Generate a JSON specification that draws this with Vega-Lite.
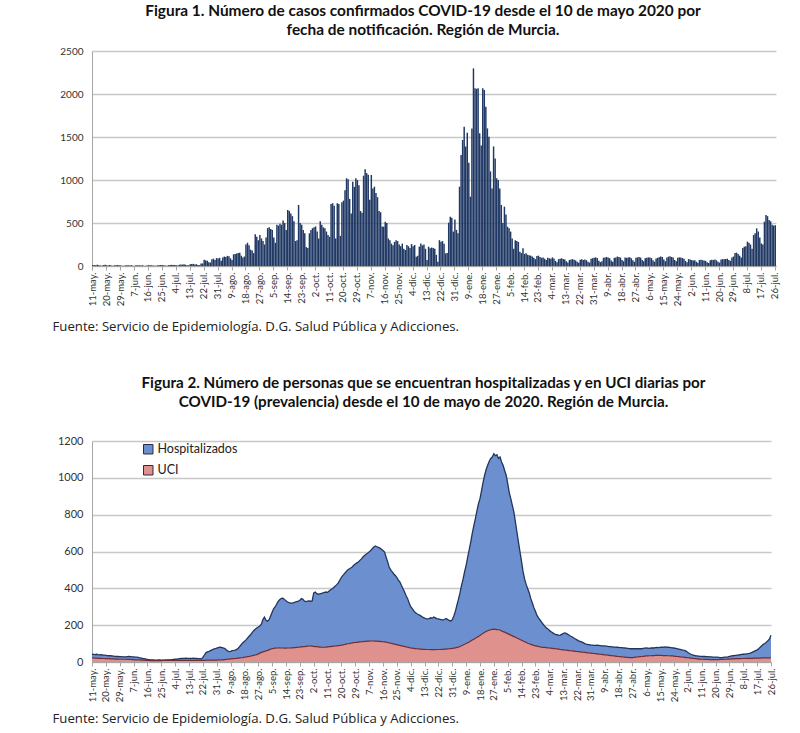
{
"$schema": "https://vega.github.io/schema/vega-lite/v6.json",
"padding": {"left": 52, "top": 3, "right": 10, "bottom": 5},
"spacing": 42,
"config": {
  "font": "Lato",
  "view": {"stroke": null},
  "axis": {"labelFont": "Lato", "labelColor": "#333333", "domainColor": "#a6a6a6", "tickColor": "#a6a6a6", "titleFont": "Open Sans", "titleFontWeight": "normal", "titleFontSize": 13, "titleColor": "#222222"}
},
"data": {"values": [
{"d":"2020-05-11","c":12,"h":42,"u":22},{"d":"2020-05-12","c":10,"h":41,"u":22},{"d":"2020-05-13","c":8,"h":40,"u":21},{"d":"2020-05-14","c":15,"h":42,"u":21},{"d":"2020-05-15","c":9,"h":40,"u":20},{"d":"2020-05-16","c":6,"h":39,"u":20},{"d":"2020-05-17","c":4,"h":40,"u":20},{"d":"2020-05-18","c":11,"h":38,"u":19},{"d":"2020-05-19","c":14,"h":37,"u":19},{"d":"2020-05-20","c":9,"h":36,"u":18},{"d":"2020-05-21","c":7,"h":35,"u":18},{"d":"2020-05-22","c":12,"h":34,"u":18},{"d":"2020-05-23","c":5,"h":34,"u":17},{"d":"2020-05-24","c":3,"h":33,"u":17},{"d":"2020-05-25","c":8,"h":32,"u":17},{"d":"2020-05-26","c":10,"h":31,"u":16},{"d":"2020-05-27","c":12,"h":30,"u":16},{"d":"2020-05-28","c":9,"h":30,"u":16},{"d":"2020-05-29","c":7,"h":29,"u":15},{"d":"2020-05-30","c":4,"h":29,"u":15},{"d":"2020-05-31","c":3,"h":28,"u":15},
{"d":"2020-06-01","c":6,"h":28,"u":15},{"d":"2020-06-02","c":9,"h":28,"u":15},{"d":"2020-06-03","c":8,"h":29,"u":14},{"d":"2020-06-04","c":7,"h":30,"u":14},{"d":"2020-06-05","c":10,"h":29,"u":14},{"d":"2020-06-06","c":4,"h":28,"u":13},{"d":"2020-06-07","c":2,"h":28,"u":13},{"d":"2020-06-08","c":8,"h":27,"u":12},{"d":"2020-06-09","c":7,"h":26,"u":12},{"d":"2020-06-10","c":9,"h":25,"u":11},{"d":"2020-06-11","c":6,"h":23,"u":11},{"d":"2020-06-12","c":8,"h":21,"u":10},{"d":"2020-06-13","c":3,"h":19,"u":10},{"d":"2020-06-14","c":2,"h":18,"u":10},{"d":"2020-06-15","c":7,"h":16,"u":9},{"d":"2020-06-16","c":9,"h":14,"u":9},{"d":"2020-06-17","c":10,"h":13,"u":9},{"d":"2020-06-18","c":8,"h":12,"u":8},{"d":"2020-06-19","c":6,"h":11,"u":8},{"d":"2020-06-20","c":4,"h":11,"u":8},{"d":"2020-06-21","c":3,"h":10,"u":8},{"d":"2020-06-22","c":9,"h":10,"u":8},{"d":"2020-06-23","c":8,"h":11,"u":8},{"d":"2020-06-24","c":11,"h":11,"u":8},{"d":"2020-06-25","c":10,"h":10,"u":8},{"d":"2020-06-26","c":9,"h":10,"u":9},{"d":"2020-06-27","c":5,"h":10,"u":9},{"d":"2020-06-28","c":4,"h":11,"u":9},{"d":"2020-06-29","c":10,"h":11,"u":9},{"d":"2020-06-30","c":12,"h":12,"u":9},
{"d":"2020-07-01","c":14,"h":12,"u":9},{"d":"2020-07-02","c":11,"h":13,"u":9},{"d":"2020-07-03","c":13,"h":14,"u":9},{"d":"2020-07-04","c":9,"h":15,"u":9},{"d":"2020-07-05","c":6,"h":16,"u":9},{"d":"2020-07-06","c":15,"h":17,"u":9},{"d":"2020-07-07","c":18,"h":18,"u":9},{"d":"2020-07-08","c":16,"h":19,"u":9},{"d":"2020-07-09","c":20,"h":20,"u":9},{"d":"2020-07-10","c":14,"h":20,"u":9},{"d":"2020-07-11","c":9,"h":21,"u":9},{"d":"2020-07-12","c":8,"h":20,"u":9},{"d":"2020-07-13","c":19,"h":20,"u":9},{"d":"2020-07-14","c":22,"h":19,"u":9},{"d":"2020-07-15","c":25,"h":20,"u":9},{"d":"2020-07-16","c":18,"h":21,"u":9},{"d":"2020-07-17","c":21,"h":20,"u":9},{"d":"2020-07-18","c":12,"h":19,"u":9},{"d":"2020-07-19","c":10,"h":18,"u":9},{"d":"2020-07-20","c":28,"h":18,"u":9},{"d":"2020-07-21","c":30,"h":17,"u":9},{"d":"2020-07-22","c":72,"h":25,"u":9},{"d":"2020-07-23","c":65,"h":38,"u":9},{"d":"2020-07-24","c":60,"h":50,"u":10},{"d":"2020-07-25","c":45,"h":55,"u":10},{"d":"2020-07-26","c":40,"h":58,"u":10},{"d":"2020-07-27","c":78,"h":62,"u":10},{"d":"2020-07-28","c":85,"h":66,"u":10},{"d":"2020-07-29","c":70,"h":70,"u":10},{"d":"2020-07-30","c":92,"h":72,"u":10},{"d":"2020-07-31","c":88,"h":75,"u":10},
{"d":"2020-08-01","c":95,"h":78,"u":11},{"d":"2020-08-02","c":60,"h":80,"u":11},{"d":"2020-08-03","c":100,"h":79,"u":12},{"d":"2020-08-04","c":110,"h":77,"u":12},{"d":"2020-08-05","c":105,"h":74,"u":13},{"d":"2020-08-06","c":118,"h":68,"u":14},{"d":"2020-08-07","c":112,"h":60,"u":15},{"d":"2020-08-08","c":90,"h":56,"u":16},{"d":"2020-08-09","c":70,"h":58,"u":17},{"d":"2020-08-10","c":135,"h":62,"u":18},{"d":"2020-08-11","c":140,"h":63,"u":18},{"d":"2020-08-12","c":145,"h":65,"u":19},{"d":"2020-08-13","c":150,"h":68,"u":20},{"d":"2020-08-14","c":155,"h":75,"u":21},{"d":"2020-08-15","c":120,"h":85,"u":22},{"d":"2020-08-16","c":100,"h":95,"u":23},{"d":"2020-08-17","c":110,"h":105,"u":24},{"d":"2020-08-18","c":250,"h":112,"u":26},{"d":"2020-08-19","c":270,"h":120,"u":27},{"d":"2020-08-20","c":240,"h":130,"u":29},{"d":"2020-08-21","c":190,"h":140,"u":30},{"d":"2020-08-22","c":180,"h":148,"u":32},{"d":"2020-08-23","c":150,"h":160,"u":34},{"d":"2020-08-24","c":370,"h":170,"u":36},{"d":"2020-08-25","c":340,"h":178,"u":38},{"d":"2020-08-26","c":300,"h":185,"u":40},{"d":"2020-08-27","c":360,"h":190,"u":44},{"d":"2020-08-28","c":320,"h":196,"u":48},{"d":"2020-08-29","c":290,"h":205,"u":52},{"d":"2020-08-30","c":250,"h":230,"u":55},{"d":"2020-08-31","c":330,"h":244,"u":58},
{"d":"2020-09-01","c":440,"h":226,"u":60},{"d":"2020-09-02","c":450,"h":222,"u":63},{"d":"2020-09-03","c":430,"h":230,"u":66},{"d":"2020-09-04","c":420,"h":250,"u":70},{"d":"2020-09-05","c":330,"h":270,"u":72},{"d":"2020-09-06","c":270,"h":290,"u":74},{"d":"2020-09-07","c":480,"h":300,"u":75},{"d":"2020-09-08","c":470,"h":315,"u":76},{"d":"2020-09-09","c":490,"h":330,"u":76},{"d":"2020-09-10","c":480,"h":340,"u":77},{"d":"2020-09-11","c":530,"h":345,"u":76},{"d":"2020-09-12","c":500,"h":347,"u":76},{"d":"2020-09-13","c":420,"h":340,"u":75},{"d":"2020-09-14","c":650,"h":332,"u":75},{"d":"2020-09-15","c":640,"h":326,"u":76},{"d":"2020-09-16","c":610,"h":322,"u":76},{"d":"2020-09-17","c":580,"h":320,"u":76},{"d":"2020-09-18","c":520,"h":320,"u":77},{"d":"2020-09-19","c":290,"h":322,"u":78},{"d":"2020-09-20","c":300,"h":325,"u":78},{"d":"2020-09-21","c":710,"h":328,"u":79},{"d":"2020-09-22","c":500,"h":330,"u":80},{"d":"2020-09-23","c":480,"h":335,"u":81},{"d":"2020-09-24","c":420,"h":344,"u":82},{"d":"2020-09-25","c":380,"h":340,"u":83},{"d":"2020-09-26","c":220,"h":330,"u":84},{"d":"2020-09-27","c":210,"h":328,"u":85},{"d":"2020-09-28","c":380,"h":330,"u":86},{"d":"2020-09-29","c":420,"h":332,"u":87},{"d":"2020-09-30","c":440,"h":330,"u":88},
{"d":"2020-10-01","c":450,"h":332,"u":86},{"d":"2020-10-02","c":460,"h":375,"u":85},{"d":"2020-10-03","c":400,"h":380,"u":84},{"d":"2020-10-04","c":320,"h":371,"u":83},{"d":"2020-10-05","c":520,"h":368,"u":82},{"d":"2020-10-06","c":480,"h":370,"u":81},{"d":"2020-10-07","c":450,"h":372,"u":80},{"d":"2020-10-08","c":440,"h":375,"u":80},{"d":"2020-10-09","c":400,"h":378,"u":80},{"d":"2020-10-10","c":360,"h":380,"u":81},{"d":"2020-10-11","c":340,"h":378,"u":82},{"d":"2020-10-12","c":720,"h":385,"u":83},{"d":"2020-10-13","c":730,"h":392,"u":84},{"d":"2020-10-14","c":700,"h":398,"u":85},{"d":"2020-10-15","c":320,"h":405,"u":86},{"d":"2020-10-16","c":730,"h":412,"u":87},{"d":"2020-10-17","c":720,"h":420,"u":88},{"d":"2020-10-18","c":350,"h":430,"u":89},{"d":"2020-10-19","c":740,"h":445,"u":90},{"d":"2020-10-20","c":760,"h":460,"u":91},{"d":"2020-10-21","c":880,"h":470,"u":93},{"d":"2020-10-22","c":1020,"h":480,"u":95},{"d":"2020-10-23","c":1010,"h":490,"u":97},{"d":"2020-10-24","c":780,"h":500,"u":99},{"d":"2020-10-25","c":610,"h":505,"u":100},{"d":"2020-10-26","c":980,"h":510,"u":102},{"d":"2020-10-27","c":920,"h":516,"u":104},{"d":"2020-10-28","c":1020,"h":525,"u":105},{"d":"2020-10-29","c":1000,"h":532,"u":106},{"d":"2020-10-30","c":940,"h":538,"u":107},{"d":"2020-10-31","c":640,"h":543,"u":108},
{"d":"2020-11-01","c":620,"h":552,"u":109},{"d":"2020-11-02","c":1050,"h":560,"u":110},{"d":"2020-11-03","c":1124,"h":570,"u":111},{"d":"2020-11-04","c":1080,"h":578,"u":112},{"d":"2020-11-05","c":1060,"h":585,"u":112},{"d":"2020-11-06","c":770,"h":590,"u":113},{"d":"2020-11-07","c":1058,"h":598,"u":113},{"d":"2020-11-08","c":900,"h":605,"u":114},{"d":"2020-11-09","c":922,"h":615,"u":114},{"d":"2020-11-10","c":850,"h":624,"u":114},{"d":"2020-11-11","c":800,"h":630,"u":113},{"d":"2020-11-12","c":640,"h":626,"u":113},{"d":"2020-11-13","c":625,"h":622,"u":112},{"d":"2020-11-14","c":460,"h":618,"u":112},{"d":"2020-11-15","c":457,"h":612,"u":111},{"d":"2020-11-16","c":515,"h":605,"u":110},{"d":"2020-11-17","c":500,"h":597,"u":109},{"d":"2020-11-18","c":320,"h":570,"u":108},{"d":"2020-11-19","c":300,"h":545,"u":106},{"d":"2020-11-20","c":260,"h":516,"u":104},{"d":"2020-11-21","c":240,"h":500,"u":102},{"d":"2020-11-22","c":280,"h":489,"u":100},{"d":"2020-11-23","c":300,"h":478,"u":98},{"d":"2020-11-24","c":290,"h":470,"u":96},{"d":"2020-11-25","c":250,"h":458,"u":94},{"d":"2020-11-26","c":230,"h":445,"u":92},{"d":"2020-11-27","c":260,"h":434,"u":90},{"d":"2020-11-28","c":200,"h":415,"u":88},{"d":"2020-11-29","c":186,"h":398,"u":86},{"d":"2020-11-30","c":245,"h":380,"u":84},
{"d":"2020-12-01","c":230,"h":360,"u":82},{"d":"2020-12-02","c":210,"h":344,"u":80},{"d":"2020-12-03","c":255,"h":320,"u":78},{"d":"2020-12-04","c":230,"h":300,"u":76},{"d":"2020-12-05","c":245,"h":290,"u":75},{"d":"2020-12-06","c":108,"h":278,"u":74},{"d":"2020-12-07","c":120,"h":268,"u":73},{"d":"2020-12-08","c":225,"h":262,"u":72},{"d":"2020-12-09","c":263,"h":258,"u":71},{"d":"2020-12-10","c":240,"h":253,"u":70},{"d":"2020-12-11","c":250,"h":248,"u":70},{"d":"2020-12-12","c":200,"h":242,"u":69},{"d":"2020-12-13","c":70,"h":238,"u":69},{"d":"2020-12-14","c":225,"h":235,"u":68},{"d":"2020-12-15","c":205,"h":234,"u":68},{"d":"2020-12-16","c":215,"h":236,"u":68},{"d":"2020-12-17","c":210,"h":240,"u":67},{"d":"2020-12-18","c":200,"h":238,"u":67},{"d":"2020-12-19","c":130,"h":244,"u":67},{"d":"2020-12-20","c":50,"h":240,"u":67},{"d":"2020-12-21","c":300,"h":236,"u":68},{"d":"2020-12-22","c":283,"h":234,"u":68},{"d":"2020-12-23","c":290,"h":232,"u":68},{"d":"2020-12-24","c":260,"h":230,"u":69},{"d":"2020-12-25","c":147,"h":228,"u":69},{"d":"2020-12-26","c":150,"h":232,"u":70},{"d":"2020-12-27","c":504,"h":236,"u":70},{"d":"2020-12-28","c":574,"h":230,"u":71},{"d":"2020-12-29","c":560,"h":226,"u":72},{"d":"2020-12-30","c":400,"h":222,"u":73},{"d":"2020-12-31","c":540,"h":230,"u":74},
{"d":"2021-01-01","c":420,"h":250,"u":75},{"d":"2021-01-02","c":380,"h":275,"u":77},{"d":"2021-01-03","c":922,"h":308,"u":79},{"d":"2021-01-04","c":1290,"h":340,"u":81},{"d":"2021-01-05","c":1465,"h":375,"u":84},{"d":"2021-01-06","c":1620,"h":416,"u":88},{"d":"2021-01-07","c":1390,"h":450,"u":92},{"d":"2021-01-08","c":1550,"h":490,"u":96},{"d":"2021-01-09","c":1200,"h":525,"u":100},{"d":"2021-01-10","c":806,"h":570,"u":105},{"d":"2021-01-11","c":1600,"h":610,"u":109},{"d":"2021-01-12","c":2298,"h":652,"u":114},{"d":"2021-01-13","c":2066,"h":700,"u":119},{"d":"2021-01-14","c":2060,"h":740,"u":124},{"d":"2021-01-15","c":2066,"h":778,"u":129},{"d":"2021-01-16","c":1543,"h":820,"u":134},{"d":"2021-01-17","c":1400,"h":860,"u":139},{"d":"2021-01-18","c":2066,"h":887,"u":144},{"d":"2021-01-19","c":2047,"h":930,"u":150},{"d":"2021-01-20","c":1853,"h":975,"u":156},{"d":"2021-01-21","c":1600,"h":1014,"u":162},{"d":"2021-01-22","c":1504,"h":1045,"u":166},{"d":"2021-01-23","c":1100,"h":1068,"u":170},{"d":"2021-01-24","c":900,"h":1090,"u":173},{"d":"2021-01-25","c":1390,"h":1105,"u":175},{"d":"2021-01-26","c":1250,"h":1113,"u":177},{"d":"2021-01-27","c":1020,"h":1131,"u":178},{"d":"2021-01-28","c":1000,"h":1120,"u":177},{"d":"2021-01-29","c":900,"h":1125,"u":176},{"d":"2021-01-30","c":710,"h":1105,"u":175},{"d":"2021-01-31","c":500,"h":1113,"u":174},
{"d":"2021-02-01","c":690,"h":1086,"u":168},{"d":"2021-02-02","c":600,"h":1068,"u":165},{"d":"2021-02-03","c":457,"h":1040,"u":162},{"d":"2021-02-04","c":440,"h":1014,"u":158},{"d":"2021-02-05","c":400,"h":970,"u":154},{"d":"2021-02-06","c":320,"h":920,"u":150},{"d":"2021-02-07","c":200,"h":887,"u":146},{"d":"2021-02-08","c":300,"h":850,"u":142},{"d":"2021-02-09","c":290,"h":815,"u":138},{"d":"2021-02-10","c":280,"h":760,"u":134},{"d":"2021-02-11","c":167,"h":706,"u":130},{"d":"2021-02-12","c":150,"h":650,"u":126},{"d":"2021-02-13","c":205,"h":597,"u":122},{"d":"2021-02-14","c":140,"h":545,"u":118},{"d":"2021-02-15","c":147,"h":489,"u":114},{"d":"2021-02-16","c":130,"h":450,"u":110},{"d":"2021-02-17","c":125,"h":420,"u":106},{"d":"2021-02-18","c":120,"h":398,"u":102},{"d":"2021-02-19","c":110,"h":375,"u":99},{"d":"2021-02-20","c":95,"h":344,"u":96},{"d":"2021-02-21","c":80,"h":320,"u":93},{"d":"2021-02-22","c":115,"h":295,"u":90},{"d":"2021-02-23","c":120,"h":275,"u":88},{"d":"2021-02-24","c":105,"h":253,"u":86},{"d":"2021-02-25","c":95,"h":240,"u":84},{"d":"2021-02-26","c":100,"h":228,"u":82},{"d":"2021-02-27","c":85,"h":217,"u":80},{"d":"2021-02-28","c":70,"h":205,"u":79},
{"d":"2021-03-01","c":95,"h":195,"u":79},{"d":"2021-03-02","c":90,"h":185,"u":78},{"d":"2021-03-03","c":85,"h":181,"u":77},{"d":"2021-03-04","c":100,"h":172,"u":76},{"d":"2021-03-05","c":88,"h":165,"u":75},{"d":"2021-03-06","c":60,"h":160,"u":74},{"d":"2021-03-07","c":45,"h":154,"u":73},{"d":"2021-03-08","c":80,"h":150,"u":72},{"d":"2021-03-09","c":85,"h":148,"u":71},{"d":"2021-03-10","c":90,"h":146,"u":70},{"d":"2021-03-11","c":82,"h":145,"u":68},{"d":"2021-03-12","c":75,"h":150,"u":67},{"d":"2021-03-13","c":55,"h":154,"u":66},{"d":"2021-03-14","c":40,"h":158,"u":65},{"d":"2021-03-15","c":70,"h":155,"u":64},{"d":"2021-03-16","c":75,"h":150,"u":63},{"d":"2021-03-17","c":80,"h":145,"u":62},{"d":"2021-03-18","c":72,"h":140,"u":61},{"d":"2021-03-19","c":65,"h":136,"u":60},{"d":"2021-03-20","c":50,"h":130,"u":59},{"d":"2021-03-21","c":38,"h":125,"u":58},{"d":"2021-03-22","c":72,"h":120,"u":57},{"d":"2021-03-23","c":78,"h":115,"u":56},{"d":"2021-03-24","c":70,"h":112,"u":55},{"d":"2021-03-25","c":75,"h":109,"u":54},{"d":"2021-03-26","c":68,"h":105,"u":53},{"d":"2021-03-27","c":48,"h":100,"u":52},{"d":"2021-03-28","c":40,"h":97,"u":51},{"d":"2021-03-29","c":85,"h":95,"u":50},{"d":"2021-03-30","c":90,"h":94,"u":49},{"d":"2021-03-31","c":95,"h":92,"u":48},
{"d":"2021-04-01","c":100,"h":92,"u":47},{"d":"2021-04-02","c":92,"h":90,"u":46},{"d":"2021-04-03","c":60,"h":90,"u":45},{"d":"2021-04-04","c":45,"h":91,"u":44},{"d":"2021-04-05","c":55,"h":90,"u":43},{"d":"2021-04-06","c":95,"h":89,"u":42},{"d":"2021-04-07","c":100,"h":88,"u":41},{"d":"2021-04-08","c":105,"h":88,"u":40},{"d":"2021-04-09","c":98,"h":87,"u":39},{"d":"2021-04-10","c":90,"h":86,"u":38},{"d":"2021-04-11","c":65,"h":85,"u":37},{"d":"2021-04-12","c":50,"h":84,"u":36},{"d":"2021-04-13","c":95,"h":83,"u":35},{"d":"2021-04-14","c":100,"h":82,"u":34},{"d":"2021-04-15","c":110,"h":81,"u":33},{"d":"2021-04-16","c":105,"h":81,"u":32},{"d":"2021-04-17","c":98,"h":80,"u":31},{"d":"2021-04-18","c":70,"h":79,"u":30},{"d":"2021-04-19","c":55,"h":78,"u":29},{"d":"2021-04-20","c":100,"h":78,"u":28},{"d":"2021-04-21","c":95,"h":77,"u":27},{"d":"2021-04-22","c":98,"h":76,"u":26},{"d":"2021-04-23","c":102,"h":75,"u":25},{"d":"2021-04-24","c":90,"h":74,"u":25},{"d":"2021-04-25","c":68,"h":73,"u":24},{"d":"2021-04-26","c":50,"h":72,"u":24},{"d":"2021-04-27","c":95,"h":72,"u":24},{"d":"2021-04-28","c":100,"h":72,"u":25},{"d":"2021-04-29","c":105,"h":73,"u":26},{"d":"2021-04-30","c":98,"h":72,"u":27},
{"d":"2021-05-01","c":70,"h":72,"u":28},{"d":"2021-05-02","c":55,"h":73,"u":29},{"d":"2021-05-03","c":90,"h":72,"u":30},{"d":"2021-05-04","c":95,"h":74,"u":31},{"d":"2021-05-05","c":100,"h":75,"u":32},{"d":"2021-05-06","c":98,"h":76,"u":33},{"d":"2021-05-07","c":92,"h":75,"u":33},{"d":"2021-05-08","c":68,"h":74,"u":34},{"d":"2021-05-09","c":50,"h":76,"u":34},{"d":"2021-05-10","c":88,"h":77,"u":35},{"d":"2021-05-11","c":95,"h":76,"u":35},{"d":"2021-05-12","c":102,"h":78,"u":36},{"d":"2021-05-13","c":110,"h":79,"u":36},{"d":"2021-05-14","c":105,"h":78,"u":36},{"d":"2021-05-15","c":75,"h":80,"u":36},{"d":"2021-05-16","c":55,"h":81,"u":36},{"d":"2021-05-17","c":100,"h":80,"u":35},{"d":"2021-05-18","c":108,"h":82,"u":35},{"d":"2021-05-19","c":112,"h":81,"u":35},{"d":"2021-05-20","c":105,"h":80,"u":34},{"d":"2021-05-21","c":98,"h":79,"u":34},{"d":"2021-05-22","c":70,"h":78,"u":33},{"d":"2021-05-23","c":55,"h":77,"u":33},{"d":"2021-05-24","c":95,"h":76,"u":32},{"d":"2021-05-25","c":100,"h":74,"u":31},{"d":"2021-05-26","c":98,"h":72,"u":30},{"d":"2021-05-27","c":92,"h":70,"u":29},{"d":"2021-05-28","c":85,"h":68,"u":28},{"d":"2021-05-29","c":60,"h":66,"u":27},{"d":"2021-05-30","c":45,"h":64,"u":26},{"d":"2021-05-31","c":80,"h":63,"u":25},
{"d":"2021-06-01","c":75,"h":58,"u":24},{"d":"2021-06-02","c":70,"h":52,"u":23},{"d":"2021-06-03","c":65,"h":46,"u":22},{"d":"2021-06-04","c":68,"h":42,"u":21},{"d":"2021-06-05","c":50,"h":38,"u":20},{"d":"2021-06-06","c":38,"h":36,"u":19},{"d":"2021-06-07","c":70,"h":34,"u":18},{"d":"2021-06-08","c":72,"h":33,"u":17},{"d":"2021-06-09","c":68,"h":32,"u":16},{"d":"2021-06-10","c":65,"h":31,"u":16},{"d":"2021-06-11","c":60,"h":31,"u":15},{"d":"2021-06-12","c":45,"h":30,"u":15},{"d":"2021-06-13","c":35,"h":30,"u":14},{"d":"2021-06-14","c":68,"h":29,"u":14},{"d":"2021-06-15","c":72,"h":29,"u":14},{"d":"2021-06-16","c":70,"h":28,"u":13},{"d":"2021-06-17","c":75,"h":28,"u":13},{"d":"2021-06-18","c":66,"h":27,"u":13},{"d":"2021-06-19","c":50,"h":27,"u":13},{"d":"2021-06-20","c":40,"h":26,"u":13},{"d":"2021-06-21","c":75,"h":26,"u":13},{"d":"2021-06-22","c":80,"h":25,"u":13},{"d":"2021-06-23","c":78,"h":24,"u":14},{"d":"2021-06-24","c":82,"h":24,"u":14},{"d":"2021-06-25","c":85,"h":25,"u":14},{"d":"2021-06-26","c":70,"h":26,"u":15},{"d":"2021-06-27","c":60,"h":27,"u":15},{"d":"2021-06-28","c":100,"h":28,"u":16},{"d":"2021-06-29","c":110,"h":30,"u":16},{"d":"2021-06-30","c":150,"h":32,"u":17},
{"d":"2021-07-01","c":155,"h":34,"u":17},{"d":"2021-07-02","c":140,"h":35,"u":17},{"d":"2021-07-03","c":120,"h":36,"u":18},{"d":"2021-07-04","c":100,"h":37,"u":18},{"d":"2021-07-05","c":210,"h":38,"u":18},{"d":"2021-07-06","c":225,"h":40,"u":18},{"d":"2021-07-07","c":230,"h":41,"u":19},{"d":"2021-07-08","c":283,"h":42,"u":19},{"d":"2021-07-09","c":270,"h":43,"u":19},{"d":"2021-07-10","c":250,"h":44,"u":20},{"d":"2021-07-11","c":200,"h":45,"u":20},{"d":"2021-07-12","c":360,"h":47,"u":20},{"d":"2021-07-13","c":380,"h":50,"u":20},{"d":"2021-07-14","c":438,"h":54,"u":20},{"d":"2021-07-15","c":400,"h":58,"u":21},{"d":"2021-07-16","c":330,"h":62,"u":21},{"d":"2021-07-17","c":263,"h":66,"u":21},{"d":"2021-07-18","c":250,"h":72,"u":21},{"d":"2021-07-19","c":515,"h":80,"u":21},{"d":"2021-07-20","c":593,"h":88,"u":22},{"d":"2021-07-21","c":580,"h":96,"u":22},{"d":"2021-07-22","c":535,"h":100,"u":22},{"d":"2021-07-23","c":520,"h":108,"u":22},{"d":"2021-07-24","c":480,"h":115,"u":22},{"d":"2021-07-25","c":470,"h":125,"u":22},{"d":"2021-07-26","c":475,"h":145,"u":23}
]},
"vconcat": [
{
  "width": 684, "height": 215,
  "title": {"text": ["Figura 1. Número de casos confirmados COVID-19 desde el 10 de mayo 2020 por", "fecha de notificación. Región de Murcia."], "font": "Lato", "fontSize": 15.4, "fontWeight": "bold", "color": "#111111", "anchor": "middle", "dx": -11, "offset": 8, "lineHeight": 19},
  "mark": {"type": "bar", "color": "#203864"},
  "encoding": {
    "x": {"field": "d", "type": "ordinal", "scale": {"paddingInner": 0.05, "paddingOuter": 0},
      "axis": {"grid": false, "values": ["2020-05-11","2020-05-20","2020-05-29","2020-06-07","2020-06-16","2020-06-25","2020-07-04","2020-07-13","2020-07-22","2020-07-31","2020-08-09","2020-08-18","2020-08-27","2020-09-05","2020-09-14","2020-09-23","2020-10-02","2020-10-11","2020-10-20","2020-10-29","2020-11-07","2020-11-16","2020-11-25","2020-12-04","2020-12-13","2020-12-22","2020-12-31","2021-01-09","2021-01-18","2021-01-27","2021-02-05","2021-02-14","2021-02-23","2021-03-04","2021-03-13","2021-03-22","2021-03-31","2021-04-09","2021-04-18","2021-04-27","2021-05-06","2021-05-15","2021-05-24","2021-06-02","2021-06-11","2021-06-20","2021-06-29","2021-07-08","2021-07-17","2021-07-26"],
        "labelExpr": "toNumber(slice(datum.value,8,10)) + '-' + ['ene.','feb.','mar.','abr.','may.','jun.','jul.','ago.','sep.','oct.','nov.','dic.'][toNumber(slice(datum.value,5,7))-1]",
        "labelAngle": -90, "labelFontSize": 9.5, "labelOverlap": false, "labelPadding": 2, "tickSize": 4,
        "title": "Fuente: Servicio de Epidemiología. D.G. Salud Pública y Adicciones.",
        "titleFont": "Open Sans", "titleFontSize": 13.2,
        "titleX": -40, "titleY": 60, "titleAlign": "left", "titleBaseline": "middle"}},
    "y": {"field": "c", "type": "quantitative", "scale": {"domain": [0, 2500]},
      "axis": {"values": [0, 500, 1000, 1500, 2000, 2500], "format": "d", "labelFontSize": 10, "title": null, "grid": true, "gridColor": "#c8c8c8", "gridWidth": 1.6, "tickSize": 0, "labelPadding": 9}}
  }
},
{
  "width": 679, "height": 221,
  "title": {"text": ["Figura 2. Número de personas que se encuentran hospitalizadas  y en UCI diarias por", "COVID-19 (prevalencia)  desde el 10 de mayo de 2020. Región de Murcia."], "font": "Lato", "fontSize": 15.2, "fontWeight": "bold", "color": "#111111", "anchor": "middle", "dx": -8, "offset": 25, "lineHeight": 19},
  "encoding": {
    "x": {"field": "d", "type": "ordinal", "scale": {"type": "point", "padding": 0},
      "axis": {"grid": false, "values": ["2020-05-11","2020-05-20","2020-05-29","2020-06-07","2020-06-16","2020-06-25","2020-07-04","2020-07-13","2020-07-22","2020-07-31","2020-08-09","2020-08-18","2020-08-27","2020-09-05","2020-09-14","2020-09-23","2020-10-02","2020-10-11","2020-10-20","2020-10-29","2020-11-07","2020-11-16","2020-11-25","2020-12-04","2020-12-13","2020-12-22","2020-12-31","2021-01-09","2021-01-18","2021-01-27","2021-02-05","2021-02-14","2021-02-23","2021-03-04","2021-03-13","2021-03-22","2021-03-31","2021-04-09","2021-04-18","2021-04-27","2021-05-06","2021-05-15","2021-05-24","2021-06-02","2021-06-11","2021-06-20","2021-06-29","2021-07-08","2021-07-17","2021-07-26"],
        "labelExpr": "toNumber(slice(datum.value,8,10)) + '-' + ['ene.','feb.','mar.','abr.','may.','jun.','jul.','ago.','sep.','oct.','nov.','dic.'][toNumber(slice(datum.value,5,7))-1]",
        "labelAngle": -90, "labelFontSize": 9.5, "labelOverlap": false, "labelPadding": 2, "tickSize": 4,
        "title": "Fuente: Servicio de Epidemiología. D.G. Salud Pública y Adicciones.",
        "titleFont": "Open Sans", "titleFontSize": 13.2,
        "titleX": -40, "titleY": 56, "titleAlign": "left", "titleBaseline": "middle"}},
    "y": {"type": "quantitative", "scale": {"domain": [0, 1200]},
      "axis": {"values": [0, 200, 400, 600, 800, 1000, 1200], "format": "d", "labelFontSize": 11, "labelOverlap": false, "title": null, "grid": true, "gridColor": "#c8c8c8", "gridWidth": 1.6, "tickSize": 0, "labelPadding": 9}}
  },
  "layer": [
    {"mark": {"type": "area", "opacity": 1},
     "encoding": {
       "y": {"field": "h", "type": "quantitative"},
       "color": {"datum": "Hospitalizados", "type": "nominal", "scale": {"domain": ["Hospitalizados", "UCI"], "range": ["#6c90cf", "#df918e"]},
         "legend": {"orient": "none", "legendX": 50, "legendY": 392, "title": null, "symbolType": "square", "symbolSize": 90, "symbolStrokeColor": "#2b2b40", "symbolStrokeWidth": 1, "symbolOpacity": 1, "labelFont": "Lato", "labelFontSize": 12.5, "labelColor": "#222222", "rowPadding": 7, "labelOffset": 3}}
     }},
    {"mark": {"type": "line", "color": "#22355c", "strokeWidth": 1.3},
     "encoding": {"y": {"field": "h", "type": "quantitative"}}},
    {"mark": {"type": "area", "opacity": 1},
     "encoding": {
       "y": {"field": "u", "type": "quantitative"},
       "color": {"datum": "UCI", "type": "nominal"}
     }},
    {"mark": {"type": "line", "color": "#6e2f35", "strokeWidth": 1.2},
     "encoding": {"y": {"field": "u", "type": "quantitative"}}}
  ]
}
]
}
